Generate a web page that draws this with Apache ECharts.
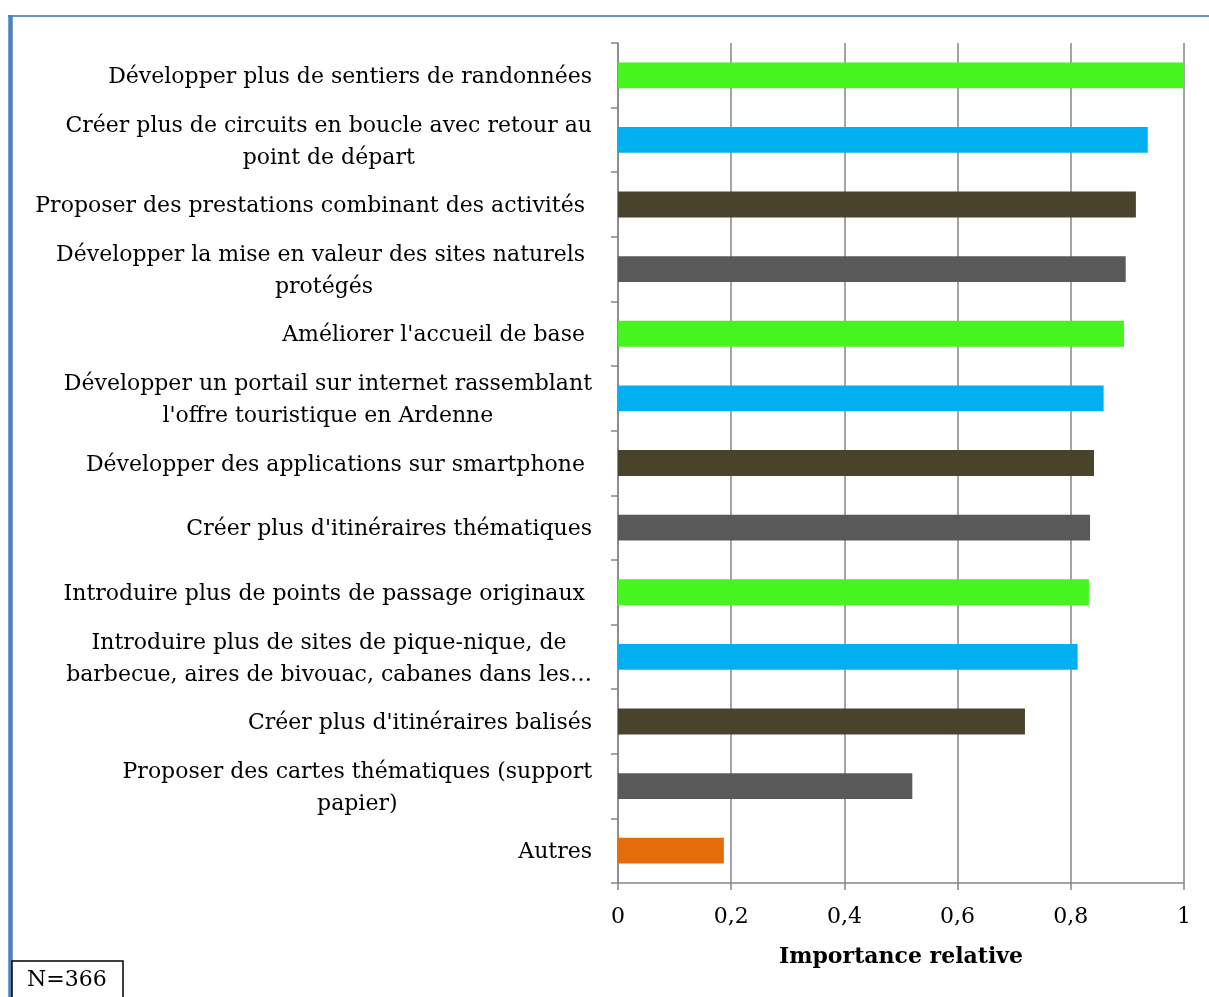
<!DOCTYPE html>
<html>
<head>
<meta charset="utf-8">
<script src="https://cdn.jsdelivr.net/npm/echarts@6/dist/echarts.min.js"></script>
<style>
  html, body { margin: 0; padding: 0; background: #fff; }
  #chart { width: 1209px; height: 997px; }
</style>
</head>
<body>
<div id="chart"></div>
<script>
// categories, top to bottom (lines split as in the picture)
var categories = [
  'Développer plus de sentiers de randonnées',
  'Créer plus de circuits en boucle avec retour au\npoint de départ',
  'Proposer des prestations combinant des activités ',
  'Développer la mise en valeur des sites naturels \nprotégés',
  "Améliorer l'accueil de base ",
  "Développer un portail sur internet rassemblant\nl'offre touristique en Ardenne",
  'Développer des applications sur smartphone ',
  "Créer plus d'itinéraires thématiques",
  'Introduire plus de points de passage originaux ',
  'Introduire plus de sites de pique-nique, de\nbarbecue, aires de bivouac, cabanes dans les…',
  "Créer plus d'itinéraires balisés",
  'Proposer des cartes thématiques (support\npapier)',
  'Autres'
];
var values = [1.0, 0.936, 0.915, 0.897, 0.894, 0.858, 0.841, 0.834, 0.832, 0.812, 0.719, 0.520, 0.187];
var barColors = ['#46F51D', '#00B0F0', '#4A432C', '#595959',
                 '#46F51D', '#00B0F0', '#4A432C', '#595959',
                 '#46F51D', '#00B0F0', '#4A432C', '#595959', '#E46C0A'];
var xTicks = [0, 0.2, 0.4, 0.6, 0.8, 1];

var font = '"DejaVu Serif", "Liberation Serif", serif';
var chart = echarts.init(document.getElementById('chart'));

var option = {
  animation: false,
  grid: { left: 618, right: 25, top: 43, bottom: 114, containLabel: false },
  xAxis: {
    type: 'value',
    min: xTicks[0],
    max: xTicks[xTicks.length - 1],
    interval: 0.2,
    name: 'Importance relative',
    nameLocation: 'middle',
    nameGap: 63,
    nameTextStyle: { fontFamily: font, fontSize: 22, fontWeight: 'bold', color: '#000' },
    axisLine: { show: true, lineStyle: { color: '#868686', width: 1.5 } },
    axisTick: { show: true, length: 7, lineStyle: { color: '#868686', width: 1.5 } },
    axisLabel: {
      fontFamily: font, fontSize: 22, color: '#000', margin: 23,
      formatter: function (v) { return String(v).replace('.', ','); }
    },
    splitLine: { show: true, lineStyle: { color: '#868686', width: 1.5 } }
  },
  yAxis: {
    type: 'category',
    inverse: true,
    data: categories,
    axisLine: { show: true, lineStyle: { color: '#868686', width: 1.5 } },
    axisTick: { show: true, length: 7, lineStyle: { color: '#868686', width: 1.5 } },
    axisLabel: {
      fontFamily: font, fontSize: 22, color: '#000', margin: 26, lineHeight: 32,
      padding: [4, 0, 0, 0],
      formatter: function (v) {
        return v.split('\n').map(function (l) { return '{c|' + l + '}'; }).join('\n');
      },
      rich: { c: { align: 'center', fontFamily: font, fontSize: 22, lineHeight: 32, color: '#000' } }
    }
  },
  series: [{
    type: 'bar',
    barCategoryGap: '60%',
    data: values.map(function (v, i) {
      return { value: v, itemStyle: { color: barColors[i] } };
    })
  }],
  graphic: [
    { type: 'line', shape: { x1: 8, y1: 16, x2: 1209, y2: 16 }, style: { stroke: '#6A93C8', lineWidth: 2 } },
    { type: 'line', shape: { x1: 10.5, y1: 15, x2: 10.5, y2: 997 }, style: { stroke: '#4F81BD', lineWidth: 4.5 } },
    { type: 'rect', shape: { x: 12, y: 961, width: 111, height: 40 }, style: { fill: '#fff', stroke: '#000', lineWidth: 1.5 } },
    { type: 'text', x: 27, y: 980, style: { text: 'N=366', font: '22px ' + font, fill: '#000', verticalAlign: 'middle' } }
  ]
};
chart.setOption(option);
</script>
</body>
</html>
